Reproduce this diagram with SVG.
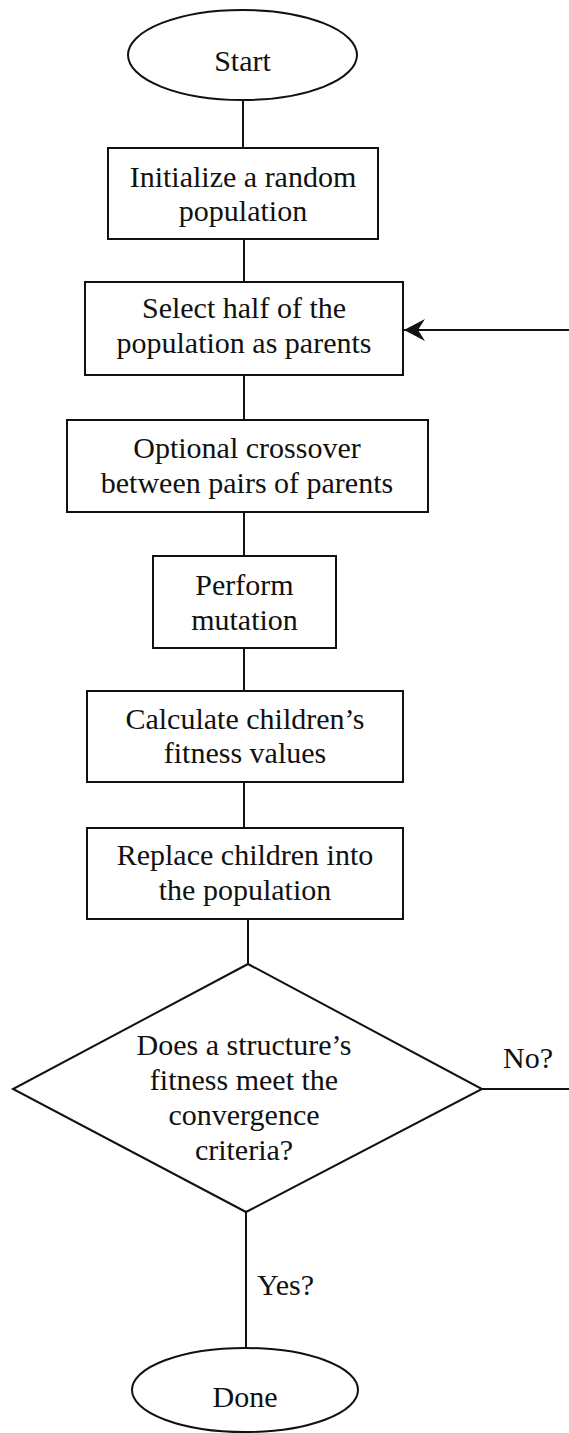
<svg xmlns="http://www.w3.org/2000/svg" width="569" height="1433" viewBox="0 0 569 1433">
  <style>
    .shape { fill: #ffffff; stroke: #111111; stroke-width: 2; }
    .link { fill: none; stroke: #111111; stroke-width: 2; }
    text { font-family: "Liberation Serif", "Times New Roman", serif; font-size: 30px; fill: #111111; }
    .c { text-anchor: middle; }
  </style>
  <defs>
    <marker id="barb" viewBox="0 0 22 22" refX="21" refY="11" markerWidth="22" markerHeight="22" markerUnits="userSpaceOnUse" orient="auto">
      <path d="M21,11 L0,0 L7,11 L0,22 Z" fill="#111111"/>
    </marker>
  </defs>
  <rect width="569" height="1433" fill="#ffffff"/>

  <g id="start">
    <ellipse class="shape" cx="242.5" cy="55" rx="114.5" ry="45"/>
    <text class="c" x="242.5" y="71">Start</text>
  </g>

  <g id="init">
    <rect class="shape" x="108" y="148" width="270" height="91"/>
    <text class="c" x="243" y="187">Initialize a random</text>
    <text class="c" x="243" y="221">population</text>
  </g>

  <g id="select">
    <rect class="shape" x="85" y="282" width="318" height="93"/>
    <text class="c" x="244" y="318">Select half of the</text>
    <text class="c" x="244" y="353">population as parents</text>
  </g>

  <g id="crossover">
    <rect class="shape" x="67" y="420" width="361" height="92"/>
    <text class="c" x="247" y="458">Optional crossover</text>
    <text class="c" x="247" y="493">between pairs of parents</text>
  </g>

  <g id="mutation">
    <rect class="shape" x="153" y="556" width="183" height="92"/>
    <text class="c" x="244.5" y="595">Perform</text>
    <text class="c" x="244.5" y="630">mutation</text>
  </g>

  <g id="fitness">
    <rect class="shape" x="87" y="691" width="316" height="91"/>
    <text class="c" x="245" y="729">Calculate children’s</text>
    <text class="c" x="245" y="763">fitness values</text>
  </g>

  <g id="replace">
    <rect class="shape" x="87" y="828" width="316" height="91"/>
    <text class="c" x="245" y="865">Replace children into</text>
    <text class="c" x="245" y="900">the population</text>
  </g>

  <g id="converged">
    <polygon class="shape" points="248,964 482,1089 246,1212 13,1089"/>
    <text class="c" x="244" y="1055">Does a structure’s</text>
    <text class="c" x="244" y="1090">fitness meet the</text>
    <text class="c" x="244" y="1125">convergence</text>
    <text class="c" x="244" y="1160">criteria?</text>
  </g>

  <g id="done">
    <ellipse class="shape" cx="245" cy="1390" rx="113" ry="42"/>
    <text class="c" x="245" y="1407">Done</text>
  </g>

  <!-- connectors, drawn last so arrowheads sit on top of the boxes -->
  <g id="connectors">
    <line class="link" x1="243" y1="100" x2="243" y2="148"/>
    <line class="link" x1="244" y1="239" x2="244" y2="282"/>
    <line class="link" x1="244" y1="375" x2="244" y2="420"/>
    <line class="link" x1="244" y1="512" x2="244" y2="556"/>
    <line class="link" x1="244" y1="648" x2="244" y2="691"/>
    <line class="link" x1="244" y1="782" x2="244" y2="828"/>
    <line class="link" x1="248" y1="919" x2="248" y2="964"/>
    <line class="link" x1="246" y1="1212" x2="246" y2="1348"/>
    <!-- loop back from "No?" into the selection step -->
    <line class="link" x1="482" y1="1089" x2="569" y2="1089"/>
    <line class="link" x1="569" y1="330" x2="404" y2="330" marker-end="url(#barb)"/>
    <text x="503" y="1068">No?</text>
    <text x="257" y="1295">Yes?</text>
  </g>
</svg>
